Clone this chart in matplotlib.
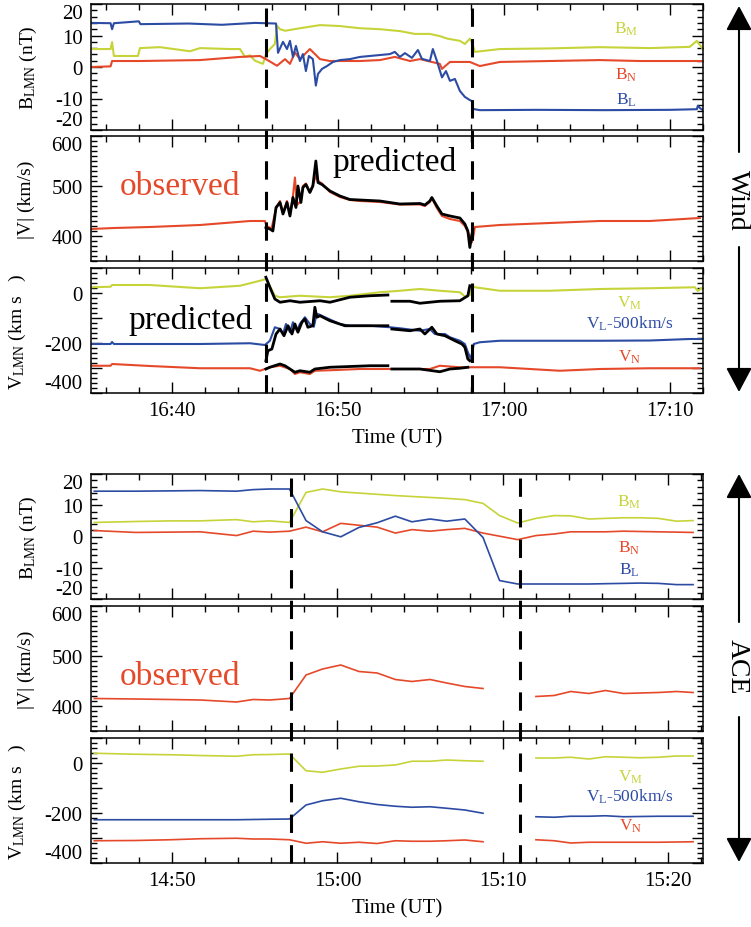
"""Wind / ACE magnetic field and velocity in LMN coordinates."""

import numpy as np
import matplotlib
matplotlib.use("Agg")
import matplotlib.pyplot as plt
from matplotlib.ticker import MultipleLocator, FixedLocator, FuncFormatter
from matplotlib.patches import FancyArrowPatch
from matplotlib.lines import Line2D
from matplotlib import transforms

plt.rcParams.update({
    "font.family": "Liberation Serif",
    "mathtext.fontset": "custom",
    "mathtext.rm": "Liberation Serif",
    "mathtext.it": "Liberation Serif:italic",
    "axes.unicode_minus": False,
})

YEL, RED, BLU = "#c6d43a", "#e5492a", "#2c4ba3"
nan = np.nan

# ---------------- Wind (minutes after 16:00) ----------------
wind_shocks = [45.64, 58.09]

wind_bl_t = [35.12, 36.3, 36.39, 36.5, 38.0, 38.1, 41.0, 43.0, 45.0, 46.27, 46.39, 46.69,
             46.93, 47.11, 47.29, 47.47, 47.71, 47.89, 48.07, 48.25, 48.49, 48.67, 48.80,
             49.04, 49.34, 49.70, 50.12, 50.72, 51.33, 51.93, 52.53, 53.13, 53.43, 53.73,
             54.04, 54.46, 54.82, 55.06, 55.54, 55.72, 55.96, 56.27, 56.51, 56.75, 57.05,
             57.35, 57.65, 57.95, 58.07, 58.13, 58.55, 62.0, 66.0, 70.0, 71.63, 71.69,
             71.81, 71.99]
wind_bl = [14.0, 13.9, 12.0, 13.9, 14.5, 13.6, 13.8, 13.4, 14.0, 13.8, 4.5, 8.0,
           5.7, 8.3, 3.2, 6.7, 1.9, 4.1, -1.3, 3.5, 2.5, -5.9, -2.2,
           -0.6, 0.3, 1.6, 2.2, 2.5, 3.2, 3.5, 3.8, 4.1, 4.8, 3.2,
           4.4, 2.9, 5.4, 2.6, 1.9, 5.7, 2.0, -3.3, -1.3, -4.4, -3.8,
           -7.6, -9.5, -10.5, -10.8, -13.3, -13.7, -13.6, -13.7, -13.6, -13.4, -12.3,
           -13.0, -13.7]

wind_bm_t = [35.12, 36.3, 36.39, 36.5, 37.95, 38.07, 39.28, 41.08, 41.69, 43.49, 44.10,
             44.40, 44.70, 45.00, 45.48, 45.66, 45.90, 46.20, 46.33, 46.51, 46.81, 47.71,
             48.92, 50.12, 51.33, 52.53, 53.73, 54.64, 55.54, 56.14, 56.6, 57.35, 57.65,
             57.95, 58.07, 58.25, 59.76, 62.77, 65.78, 68.80, 71.2, 71.63, 71.99]
wind_bm = [5.7, 5.7, 7.9, 3.5, 3.5, 6.0, 6.3, 5.0, 6.0, 5.7, 5.7,
           3.2, 3.7, 2.0, 1.0, 4.0, 5.7, 7.3, 13.1, 12.0, 11.5, 12.3,
           13.3, 13.0, 12.3, 12.0, 11.4, 10.5, 10.5, 9.8, 9.0, 8.3, 7.3,
           9.0, 7.9, 4.8, 5.7, 5.9, 6.3, 6.0, 6.4, 8.3, 5.7]

wind_bn_t = [35.12, 36.3, 36.39, 38.07, 41.69, 44.10, 45.30, 45.66, 46.33, 46.81, 47.11,
             47.41, 47.71, 48.31, 48.92, 49.52, 50.12, 51.33, 52.53, 53.43, 54.34, 54.94,
             56.14, 56.27, 56.75, 57.95, 58.55, 59.76, 62.77, 65.78, 68.19, 71.99]
wind_bn = [0.0, 0.2, 1.9, 1.9, 2.2, 3.2, 3.5, 2.5, 0.4, 2.5, 1.0,
           4.6, 2.5, 5.7, 2.5, 1.9, 1.9, 1.9, 2.2, 3.2, 1.9, 2.5,
           1.0, -0.6, 1.6, 1.6, 0.3, 1.6, 1.9, 2.2, 1.9, 1.9]

wind_v_t = [35.12, 36.5, 38.67, 41.69, 44.70, 45.60, 45.70, 46.0, 46.27, 46.51, 46.69,
            46.93, 47.11, 47.29, 47.41, 47.53, 47.77, 47.89, 48.07, 48.31, 48.49, 48.67,
            48.80, 49.04, 49.52, 50.12, 50.72, 51.33, 52.53, 53.73, 54.94, 55.24, 55.54,
            55.66, 55.96, 56.27, 56.75, 57.35, 57.65, 57.95, 58.07, 58.19, 58.25, 59.76,
            62.77, 65.78, 68.80, 71.81]
wind_v = [414, 416, 418, 422, 430, 430, 420, 415, 455, 470, 446,
          470, 442, 480, 517, 462, 470, 500, 505, 488, 502, 520,
          510, 505, 488, 478, 472, 470, 468, 463, 463, 460, 468,
          476, 456, 440, 434, 430, 420, 400, 387, 405, 418, 422,
          426, 430, 430, 436]

pred_v_t = [45.66, 45.90, 46.08, 46.27, 46.51, 46.69, 46.93, 47.11, 47.29, 47.47, 47.59,
            47.77, 47.89, 48.07, 48.31, 48.49, 48.67, 48.80, 49.04, 49.52, 50.12, 50.72,
            51.33, 52.53, 53.73, 54.94, 55.24, 55.54, 55.66, 55.96, 56.27, 56.75, 57.35,
            57.65, 57.83, 57.95, 58.13]
pred_v = [417, 414, 410, 457, 467, 444, 467, 440, 477, 457, 500,
          467, 497, 503, 487, 500, 550, 507, 503, 490, 480, 473,
          472, 470, 464, 465, 462, 470, 477, 460, 444, 440, 436,
          424, 410, 377, 414]

wind_vm_t = [35.12, 36.3, 36.39, 38.67, 41.69, 44.10, 45.30, 45.66, 45.78, 46.20, 46.51,
             47.71, 49.52, 50.72, 52.53, 53.73, 54.94, 56.14, 57.35, 57.71, 57.95, 58.13,
             58.25, 59.76, 62.77, 65.78, 68.80, 71.51, 71.69, 71.99]
wind_vm = [23, 25, 32, 32, 19, 29, 49, 56, 43, -11, -17,
           -11, -17, -11, 3, 9, 16, 9, 3, -17, -8, 29,
           23, 9, 9, 16, 19, 23, 8, 23]

wind_vl_t = [35.12, 36.3, 36.39, 36.5, 41.69, 44.70, 45.60, 45.90, 46.20, 46.51, 46.69,
             46.87, 47.11, 47.29, 47.53, 47.71, 48.01, 48.31, 48.55, 48.67, 48.80, 49.22,
             50.12, 50.72, 51.93, 53.13, 53.73, 54.94, 55.54, 55.84, 56.45, 56.75, 57.35,
             57.65, 57.83, 58.01, 58.19, 58.55, 59.76, 65.78, 68.80, 71.20, 71.99]
wind_vl = [-204, -204, -196, -204, -204, -201, -208, -191, -137, -144, -164,
           -124, -157, -117, -151, -124, -97, -124, -135, -97, -84, -97,
           -124, -131, -131, -137, -141, -151, -144, -164, -164, -177, -191,
           -204, -237, -264, -204, -197, -191, -191, -190, -184, -184]

wind_vn_t = [35.12, 36.3, 36.39, 38.67, 41.69, 44.70, 45.30, 45.90, 46.51, 47.11, 47.41,
             47.71, 48.31, 48.61, 49.52, 51.33, 53.73, 55.54, 56.14, 57.35, 58.55, 59.76,
             63.37, 65.78, 68.80, 71.81]
wind_vn = [-291, -291, -284, -292, -301, -301, -311, -297, -291, -304, -324,
           -317, -324, -311, -309, -304, -304, -304, -291, -297, -297, -297,
           -311, -304, -301, -301]

pred_vm_t = [45.66, 45.90, 46.20, 46.51, 47.11, 47.71, 48.92, 49.52, 50.72, 51.93, 53.01,
             53.13, 53.25, 54.34, 54.94, 56.14, 57.35, 57.83, 57.95]
pred_vm = [63, 23, -24, -37, -31, -37, -31, -37, -17, -11, -8,
           nan, -33, -33, -41, -33, -31, -11, 29]

pred_vl_t = [45.66, 45.78, 46.02, 46.27, 46.51, 46.75, 46.99, 47.23, 47.41, 47.59, 47.83,
             48.01, 48.19, 48.49, 48.61, 48.73, 48.92, 49.52, 50.42, 51.93, 53.01, 53.13,
             53.25, 54.34, 54.94, 55.24, 55.66, 55.96, 56.45, 57.05, 57.47, 57.65, 57.83,
             57.95]
pred_vl = [-271, -231, -224, -164, -144, -171, -131, -164, -124, -157, -117,
           -104, -137, -131, -57, -97, -91, -111, -131, -131, -131, nan,
           -144, -151, -144, -164, -137, -164, -171, -191, -204, -217, -264,
           -271]

pred_vn_t = [45.66, 45.90, 46.51, 46.81, 47.11, 47.41, 47.71, 48.31, 48.61, 49.52, 51.93,
             53.01, 53.13, 53.25, 54.94, 56.14, 56.75, 57.35, 57.83]
pred_vn = [-304, -297, -284, -291, -304, -317, -311, -317, -304, -297, -291,
           -291, nan, -304, -304, -315, -304, -301, -297]

# ---------------- ACE (minutes after 14:00) ----------------
ace_shocks = [57.2, 71.05]
ace_t = [45.3, 47.8, 49.9, 51.7, 53.9, 54.9, 55.9, 57.1, 58.1, 59.1, 60.2, 61.3, 62.4,
         63.5, 64.5, 65.6, 66.6, 67.7, 68.8, 69.8, 70.9, 72.0, 73.1, 74.1, 75.2, 76.2,
         77.3, 78.3, 79.4, 80.5, 81.5]
ace_bl = [14.5, 14.5, 14.6, 14.7, 14.5, 15.0, 15.2, 15.2, 5.1, 1.5, -0.1, 2.9, 4.4,
          6.5, 4.7, 5.6, 4.9, 5.6, -0.3, -14.1, -15.2, -15.2, -15.2, -15.2, -15.2, -15.1,
          -15.0, -14.9, -15.0, -15.4, -15.4]
ace_bm = [4.5, 4.8, 5.0, 5.0, 5.4, 4.7, 5.0, 4.5, 14.1, 15.2, 14.3, 13.9, 13.5,
          13.1, 12.8, 12.5, 12.2, 11.8, 10.6, 6.7, 4.3, 5.8, 6.7, 6.6, 5.6, 5.8,
          6.0, 6.0, 5.8, 4.9, 5.1]
ace_bn = [1.9, 1.3, 1.4, 1.5, 0.3, 1.7, 1.4, 1.7, 3.0, 1.5, 4.2, 3.6, 3.0,
          1.1, 2.2, 1.7, 2.2, 2.6, 1.1, 0.1, -1.0, 0.3, 0.8, 1.5, 1.5, 1.5,
          1.7, 1.6, 1.5, 1.4, 1.3]
ace_v = [415, 414, 413, 412, 408, 413, 412, 415, 462, 474, 482, 469, 466,
         453, 449, 453, 446, 439, 435, nan, nan, 419, 421, 429, 425, 431,
         425, 426, 427, 429, 427]
ace_vm = [39, 35, 33, 30, 27, 33, 34, 36, -31, -37, -24, -13, -12,
          -8, 7, 7, 12, 9, 7, nan, nan, 20, 20, 23, 16, 25,
          23, 21, 23, 28, 28]
ace_vl = [-227, -227, -227, -227, -227, -226, -225, -224, -168, -151, -141, -155, -166,
          -173, -177, -175, -181, -188, -201, nan, nan, -215, -217, -213, -213, -211,
          -215, -214, -213, -213, -213]
ace_vn = [-311, -310, -307, -303, -301, -304, -304, -307, -321, -315, -321, -317, -322,
          -311, -313, -313, -311, -308, -315, nan, nan, -307, -311, -320, -317, -317,
          -317, -317, -317, -316, -315]

W, H = 751, 928
fig = plt.figure(figsize=(W / 100, H / 100), dpi=100)


def rect(top, bot):
    return [91 / W, 1 - bot / H, 612 / W, (bot - top) / H]


def hhmm(hour):
    def f(v, pos):
        m = int(round(v))
        return f"{hour + m // 60}:{m % 60:02d}"
    return FuncFormatter(f)


def setup(axs, xlim, hour):
    for ax in axs:
        ax.set_xlim(*xlim)
        ax.xaxis.set_major_locator(MultipleLocator(10))
        ax.xaxis.set_minor_locator(MultipleLocator(2))
        ax.tick_params(which="both", direction="in", top=True, right=True,
                       labelsize=15, width=1, pad=6)
        ax.tick_params(which="major", length=8)
        ax.tick_params(which="minor", length=4)
        for s in ax.spines.values():
            s.set_linewidth(1.1)
    for ax in axs[:2]:
        ax.tick_params(labelbottom=False)
    axs[2].xaxis.set_major_formatter(hhmm(hour))
    axs[2].set_xlabel("Time (UT)", fontsize=15, labelpad=6)

    b, v, vl = axs
    b.set_ylim(-20, 20)
    b.set_yticks([-20, -10, 0, 10, 20])
    b.yaxis.set_minor_locator(MultipleLocator(2))
    b.set_ylabel(r"B$_{\rm LMN}$ (nT)", fontsize=14)
    b.yaxis.set_label_coords(-0.085, 0.5)

    v.set_ylim(350, 600)
    v.set_yticks([400, 500, 600])
    v.yaxis.set_minor_locator(MultipleLocator(10))
    v.set_ylabel("|V| (km/s)", fontsize=14)
    v.yaxis.set_label_coords(-0.092, 0.5)

    vl.set_ylim(-400, 100)
    vl.yaxis.set_major_locator(FixedLocator([-400, -300, -200, -100, 0, 100]))
    vl.yaxis.set_major_formatter(FuncFormatter(
        lambda y, p: f"{int(y)}" if int(y) in (-400, -200, 0) else ""))
    vl.yaxis.set_minor_locator(MultipleLocator(20))
    vl.set_ylabel(r"V$_{\rm LMN}$ (km s   )", fontsize=14)
    vl.yaxis.set_label_coords(-0.103, 0.5)

    # IDL-style edge labels kept inside the panel
    b.yaxis.get_major_ticks()[-1].label1.set_va("top")
    b.yaxis.get_major_ticks()[0].label1.set_va("bottom")
    v.yaxis.get_major_ticks()[-1].label1.set_va("top")
    vl.yaxis.get_major_ticks()[0].label1.set_va("bottom")


def shocks(axs, times):
    top = axs[0].get_position().y1
    bot = axs[2].get_position().y0
    tr = transforms.blended_transform_factory(axs[2].transData, fig.transFigure)
    for t in times:
        fig.add_artist(Line2D([t, t], [bot, top], transform=tr, color="black",
                              lw=2.2, dashes=(6, 4)))


def side_arrow(x, y_up_tail, y_up_tip, y_dn_tail, y_dn_tip, y_text, name):
    for a, b in [(y_up_tail, y_up_tip), (y_dn_tail, y_dn_tip)]:
        fig.add_artist(FancyArrowPatch(
            (x / W, 1 - a / H), (x / W, 1 - b / H), transform=fig.transFigure,
            arrowstyle="-|>,head_length=1.5,head_width=0.8", mutation_scale=10,
            lw=1.5, color="black", shrinkA=0, shrinkB=0))
    fig.text((x - 2) / W, 1 - y_text / H, name, rotation=-90, ha="center", va="center",
             fontsize=20)


def label(ax, x, y, s, c):
    ax.text(x, y, s, color=c, ha="center", va="baseline", fontsize=12.5)


# ---------------- Wind panels ----------------
wa = [fig.add_axes(rect(5, 131)), fig.add_axes(rect(137, 262)), fig.add_axes(rect(269, 394))]
setup(wa, (35.12, 72.0), 16)
lw = 1.5
wa[0].plot(wind_bm_t, wind_bm, color=YEL, lw=lw)
wa[0].plot(wind_bn_t, wind_bn, color=RED, lw=lw)
wa[0].plot(wind_bl_t, wind_bl, color=BLU, lw=lw)
wa[1].plot(wind_v_t, wind_v, color=RED, lw=lw)
wa[1].plot(pred_v_t, pred_v, color="black", lw=2)
wa[2].plot(wind_vm_t, wind_vm, color=YEL, lw=lw)
wa[2].plot(wind_vl_t, wind_vl, color=BLU, lw=lw)
wa[2].plot(wind_vn_t, wind_vn, color=RED, lw=lw)
for t, y in [(pred_vm_t, pred_vm), (pred_vl_t, pred_vl), (pred_vn_t, pred_vn)]:
    wa[2].plot(t, y, color="black", lw=2)

label(wa[0], 67.35, 11.0, r"B$_{\rm M}$", YEL)
label(wa[0], 67.35, -3.8, r"B$_{\rm N}$", RED)
label(wa[0], 67.35, -11.7, r"B$_{\rm L}$", BLU)
label(wa[2], 67.6, -56, r"V$_{\rm M}$", YEL)
label(wa[2], 67.6, -140, r"V$_{\rm L}$-500km/s", BLU)
label(wa[2], 67.6, -271, r"V$_{\rm N}$", RED)
wa[1].text(40.5, 484, "observed", color=RED, fontsize=24, ha="center", va="baseline")
wa[1].text(53.43, 533, "predicted", color="black", fontsize=24, ha="center", va="baseline")
wa[2].text(41.14, -141, "predicted", color="black", fontsize=24, ha="center", va="baseline")
shocks(wa, wind_shocks)

# ---------------- ACE panels ----------------
aa = [fig.add_axes(rect(475, 600)), fig.add_axes(rect(607, 732)), fig.add_axes(rect(739, 864))]
setup(aa, (45.1, 82.1), 14)
lw = 1.2
aa[0].plot(ace_t, ace_bm, color=YEL, lw=lw)
aa[0].plot(ace_t, ace_bn, color=RED, lw=lw)
aa[0].plot(ace_t, ace_bl, color=BLU, lw=lw)
aa[1].plot(ace_t, ace_v, color=RED, lw=lw)
aa[2].plot(ace_t, ace_vm, color=YEL, lw=lw)
aa[2].plot(ace_t, ace_vl, color=BLU, lw=lw)
aa[2].plot(ace_t, ace_vn, color=RED, lw=lw)

label(aa[0], 77.65, 9.9, r"B$_{\rm M}$", YEL)
label(aa[0], 77.65, -4.9, r"B$_{\rm N}$", RED)
label(aa[0], 77.65, -12.0, r"B$_{\rm L}$", BLU)
label(aa[2], 77.7, -71, r"V$_{\rm M}$", YEL)
label(aa[2], 77.7, -151, r"V$_{\rm L}$-500km/s", BLU)
label(aa[2], 77.7, -268, r"V$_{\rm N}$", RED)
aa[1].text(50.5, 444, "observed", color=RED, fontsize=24, ha="center", va="baseline")
shocks(aa, ace_shocks)

side_arrow(739, 153, 7, 248, 393, 200, "Wind")
side_arrow(739, 623, 475, 718, 863, 667, "ACE")

fig.savefig("out.png", dpi=100)
